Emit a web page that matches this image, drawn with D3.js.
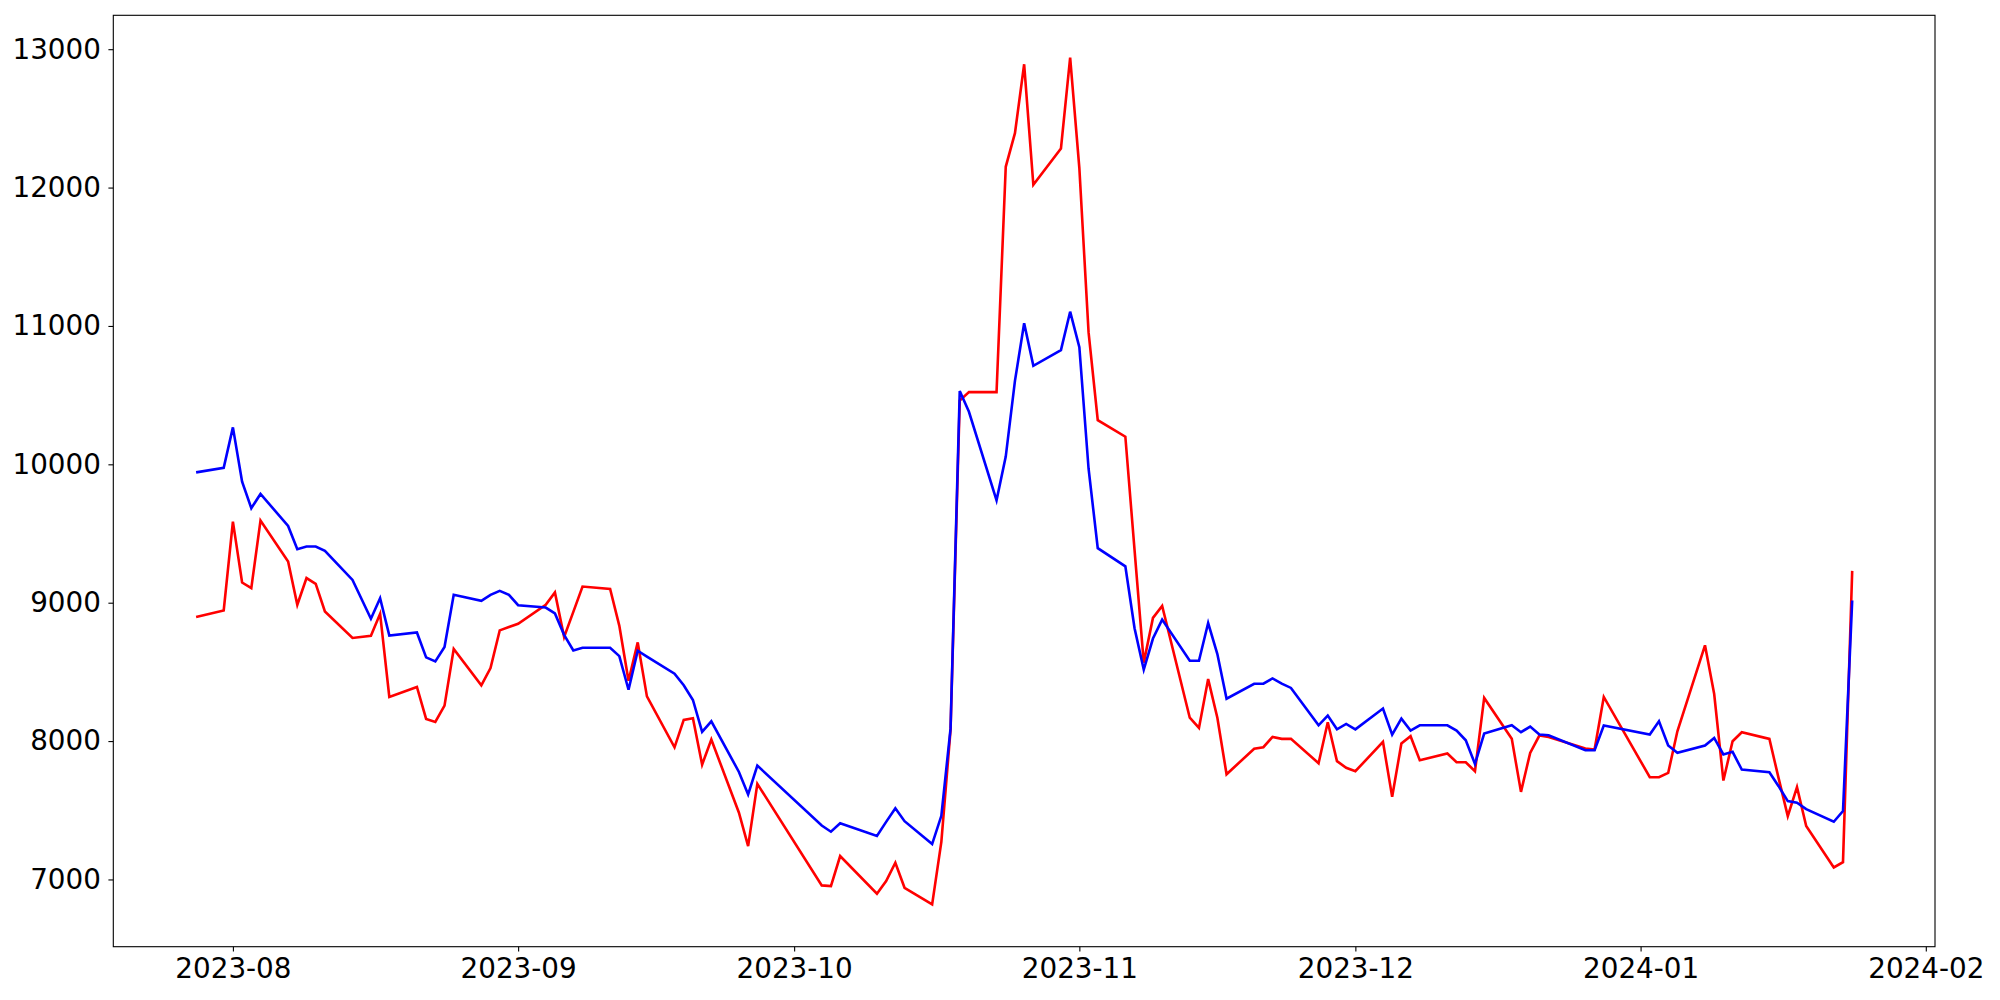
<!DOCTYPE html>
<html>
<head>
<meta charset="utf-8">
<script src="https://cdn.jsdelivr.net/npm/d3@7"></script>
<style>
  body { margin: 0; background: #fff; }
  svg { display: block; }
  .tick text { font-family: "DejaVu Sans", sans-serif; font-size: 27.8px; fill: #000; }
</style>
</head>
<body>
<svg width="2000" height="1000"></svg>
<script>
var dates = [
  "2023-07-28","2023-07-31",
  "2023-08-01","2023-08-02","2023-08-03","2023-08-04","2023-08-07","2023-08-08","2023-08-09","2023-08-10","2023-08-11",
  "2023-08-14","2023-08-16","2023-08-17","2023-08-18","2023-08-21","2023-08-22","2023-08-23","2023-08-24","2023-08-25",
  "2023-08-28","2023-08-29","2023-08-30","2023-08-31",
  "2023-09-01","2023-09-04","2023-09-05","2023-09-06","2023-09-07","2023-09-08","2023-09-11","2023-09-12","2023-09-13",
  "2023-09-14","2023-09-15","2023-09-18","2023-09-19","2023-09-20","2023-09-21","2023-09-22","2023-09-25","2023-09-26","2023-09-27",
  "2023-10-04","2023-10-05","2023-10-06","2023-10-10","2023-10-11","2023-10-12","2023-10-13","2023-10-16","2023-10-17",
  "2023-10-18","2023-10-19","2023-10-20","2023-10-23","2023-10-24","2023-10-25","2023-10-26","2023-10-27","2023-10-30","2023-10-31",
  "2023-11-01","2023-11-02","2023-11-03","2023-11-06","2023-11-07","2023-11-08","2023-11-09","2023-11-10","2023-11-13",
  "2023-11-14","2023-11-15","2023-11-16","2023-11-17","2023-11-20","2023-11-21","2023-11-22","2023-11-23","2023-11-24",
  "2023-11-27","2023-11-28","2023-11-29","2023-11-30",
  "2023-12-01","2023-12-04","2023-12-05","2023-12-06","2023-12-07","2023-12-08","2023-12-11","2023-12-12","2023-12-13",
  "2023-12-14","2023-12-15","2023-12-18","2023-12-19","2023-12-20","2023-12-21","2023-12-22","2023-12-26","2023-12-27","2023-12-28",
  "2024-01-02","2024-01-03","2024-01-04","2024-01-05","2024-01-08","2024-01-09","2024-01-10","2024-01-11","2024-01-12",
  "2024-01-15","2024-01-16","2024-01-17","2024-01-18","2024-01-19","2024-01-22","2024-01-23","2024-01-24"
];

var blueValues = [
  9942, 9975,
  10267, 9875, 9683, 9786, 9555, 9387, 9406, 9406, 9375,
  9165, 8884, 9033, 8763, 8785, 8605, 8576, 8680, 9057,
  9014, 9057, 9086, 9057,
  8982, 8965, 8922, 8768, 8655, 8674, 8674, 8614, 8371,
  8653, 8610, 8487, 8403, 8297, 8066, 8143, 7777, 7614, 7823,
  7390, 7345, 7406, 7315, 7416, 7515, 7421, 7256, 7460,
  8090, 10530, 10380, 9740, 10056, 10603, 11020, 10712, 10826, 11103,
  10847, 9970, 9394, 9263, 8815, 8517, 8741, 8878, 8580,
  8580, 8853, 8629, 8306, 8414, 8415, 8453, 8415, 8384,
  8114, 8184, 8085, 8124,
  8085, 8235, 8047, 8162, 8076, 8114, 8114, 8076, 8006,
  7835, 8054, 8114, 8064, 8105, 8047, 8042, 7934, 7934, 8112,
  8047, 8143, 7968, 7915, 7968, 8023, 7903, 7922, 7794,
  7775, 7674, 7566, 7554, 7508, 7417, 7494, 9016
];

var redValues = [
  8896, 8944,
  9586, 9146, 9105, 9593, 9297, 8985, 9178, 9136, 8937,
  8745, 8761, 8920, 8319, 8391, 8160, 8138, 8256, 8665,
  8403, 8528, 8800, 8824,
  8848, 8985, 9074, 8752, 8934, 9117, 9100, 8833, 8436,
  8713, 8323, 7955, 8153, 8165, 7830, 8011, 7482, 7241, 7691,
  6957, 6952, 7169, 6897, 6988, 7121, 6940, 6820, 7272,
  8080, 10461, 10522, 10522, 12150, 12393, 12891, 12020, 12283, 12939,
  12141, 10955, 10319, 10200, 9380, 8567, 8890, 8977, 8169,
  8095, 8448, 8169, 7760, 7945, 7956, 8030, 8016, 8016,
  7840, 8136, 7855, 7807,
  7782, 7994, 7597, 7982, 8035, 7862, 7910, 7847, 7847,
  7782, 8312, 8016, 7633, 7915, 8040, 8030, 7946, 7939, 8319,
  7739, 7739, 7770, 8071, 8692, 8340, 7715, 7999, 8064,
  8016, 7732, 7458, 7667, 7386, 7087, 7125, 9230
];

var yTicks = [7000, 8000, 9000, 10000, 11000, 12000, 13000];

var svg = d3.select("svg"),
    margin = {top: 15.3, right: 65, bottom: 53.3, left: 113.3},
    width = +svg.attr("width") - margin.left - margin.right,
    height = +svg.attr("height") - margin.top - margin.bottom;

var parse = d3.timeParse("%Y-%m-%d");
var series = [
  {color: "red", values: redValues},
  {color: "blue", values: blueValues}
];
var points = dates.map(parse);

// matplotlib style 5% padding on both axes
var xExt = d3.extent(points),
    xPad = (xExt[1] - xExt[0]) * 0.05;
var allVals = redValues.concat(blueValues),
    yExt = d3.extent(allVals),
    yPad = (yExt[1] - yExt[0]) * 0.05;

var x = d3.scaleTime()
    .domain([new Date(+xExt[0] - xPad), new Date(+xExt[1] + xPad)])
    .range([0, width]);

var y = d3.scaleLinear()
    .domain([yExt[0] - yPad, yExt[1] + yPad])
    .range([height, 0]);

var g = svg.append("g")
    .attr("transform", "translate(" + margin.left + "," + margin.top + ")");

var line = d3.line()
    .x(function(d, i) { return x(points[i]); })
    .y(function(d) { return y(d); });

g.selectAll(".series")
  .data(series)
  .enter().append("path")
    .attr("class", "series")
    .attr("fill", "none")
    .attr("stroke", function(d) { return d.color; })
    .attr("stroke-width", 2.6)
    .attr("stroke-linejoin", "miter")
    .attr("d", function(d) { return line(d.values); });

var xAxis = g.append("g")
    .attr("transform", "translate(0," + height + ")")
    .call(d3.axisBottom(x)
        .ticks(d3.timeMonth.every(1))
        .tickFormat(d3.timeFormat("%Y-%m"))
        .tickSize(4.9)
        .tickPadding(7)
        .tickSizeOuter(0));

var yAxis = g.append("g")
    .call(d3.axisLeft(y)
        .tickValues(yTicks)
        .tickFormat(d3.format("d"))
        .tickSize(4.9)
        .tickPadding(7.5)
        .tickSizeOuter(0));

xAxis.select(".domain").remove();
yAxis.select(".domain").remove();
svg.selectAll(".tick line").attr("stroke", "#000").attr("stroke-width", 1.1);

g.append("rect")
    .attr("width", width)
    .attr("height", height)
    .attr("fill", "none")
    .attr("stroke", "#000")
    .attr("stroke-width", 1.1);
</script>
</body>
</html>
